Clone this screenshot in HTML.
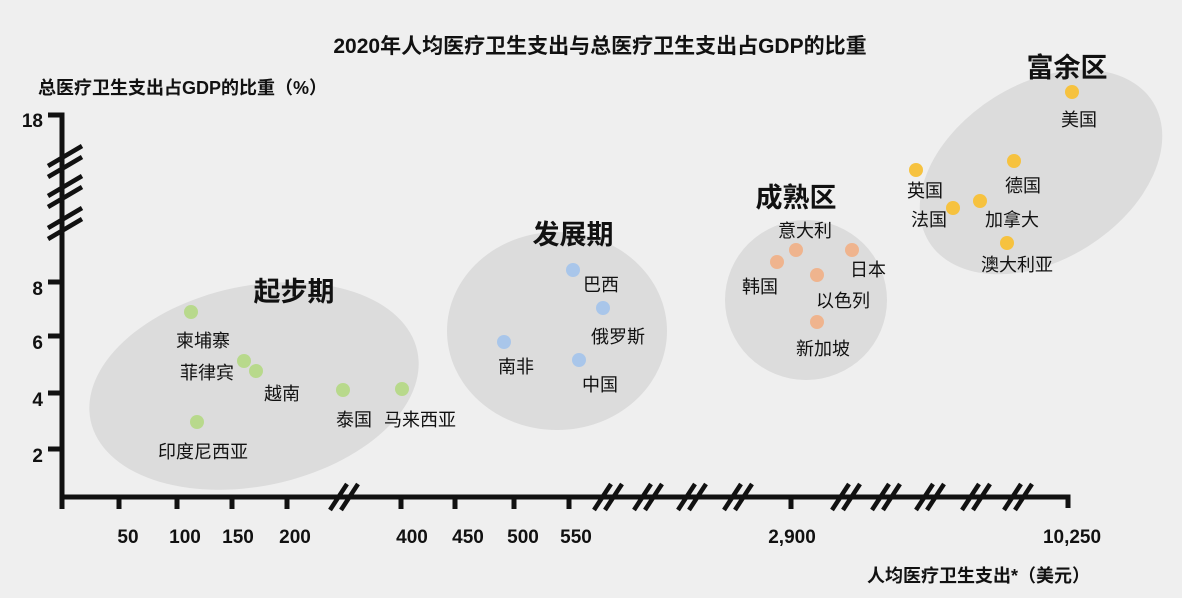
<!DOCTYPE html>
<html><head><meta charset="utf-8"><style>
html,body{margin:0;padding:0;background:#efefef;}
svg{display:block;}
text{font-family:"Liberation Sans","Noto Sans CJK SC",sans-serif;fill:#111;}
.b{font-weight:bold;}
.l{font-size:18px;text-anchor:middle;}
.z{font-size:27px;font-weight:bold;text-anchor:middle;}
.n{font-size:19px;font-weight:bold;}
</style></head><body>
<svg width="1182" height="598" viewBox="0 0 1182 598">
<rect width="1182" height="598" fill="#efefef"/>
<text x="600" y="53" class="b" font-size="21" text-anchor="middle">2020年人均医疗卫生支出与总医疗卫生支出占GDP的比重</text>
<text x="38" y="94" class="b" font-size="18">总医疗卫生支出占GDP的比重（%）</text>
<text x="1090" y="582" class="b" font-size="18" text-anchor="end">人均医疗卫生支出*（美元）</text>
<g fill="#dcdcdc">
<ellipse cx="254" cy="386" rx="167" ry="100" transform="rotate(-12 254 386)"/>
<ellipse cx="557" cy="331" rx="110" ry="99"/>
<ellipse cx="806" cy="300" rx="81" ry="80"/>
<ellipse cx="1041" cy="172" rx="132" ry="88" transform="rotate(-32 1041 172)"/>
</g>
<g stroke="#111" stroke-width="5" fill="none">
<polyline points="48,115 62,115 62,497 1068,497 1068,508"/>
<line x1="48" y1="282" x2="62" y2="282"/><line x1="48" y1="336" x2="62" y2="336"/>
<line x1="48" y1="393" x2="62" y2="393"/><line x1="48" y1="449" x2="62" y2="449"/>
<line x1="62" y1="497" x2="62" y2="509"/>
<line x1="119" y1="497" x2="119" y2="509"/><line x1="177" y1="497" x2="177" y2="509"/>
<line x1="232" y1="497" x2="232" y2="509"/><line x1="287" y1="497" x2="287" y2="509"/>
<line x1="401" y1="497" x2="401" y2="509"/><line x1="455" y1="497" x2="455" y2="509"/>
<line x1="514" y1="497" x2="514" y2="509"/><line x1="569" y1="497" x2="569" y2="509"/>
<line x1="791" y1="497" x2="791" y2="509"/>
</g>
<g stroke="#111" stroke-width="4.5">
<line x1="48" y1="166" x2="82" y2="146"/><line x1="48" y1="177" x2="82" y2="157"/>
<line x1="48" y1="196" x2="82" y2="176"/><line x1="48" y1="207" x2="82" y2="187"/>
<line x1="48" y1="228" x2="82" y2="208"/><line x1="48" y1="239" x2="82" y2="219"/>
</g>
<g stroke="#111" stroke-width="4.5">
<line x1="330" y1="510" x2="347" y2="484"/><line x1="341" y1="510" x2="358" y2="484"/>
<line x1="594" y1="510" x2="611" y2="484"/><line x1="605" y1="510" x2="622" y2="484"/>
<line x1="634" y1="510" x2="651" y2="484"/><line x1="645" y1="510" x2="662" y2="484"/>
<line x1="678" y1="510" x2="695" y2="484"/><line x1="689" y1="510" x2="706" y2="484"/>
<line x1="724" y1="510" x2="741" y2="484"/><line x1="735" y1="510" x2="752" y2="484"/>
<line x1="832" y1="510" x2="849" y2="484"/><line x1="843" y1="510" x2="860" y2="484"/>
<line x1="872" y1="510" x2="889" y2="484"/><line x1="883" y1="510" x2="900" y2="484"/>
<line x1="916" y1="510" x2="933" y2="484"/><line x1="927" y1="510" x2="944" y2="484"/>
<line x1="962" y1="510" x2="979" y2="484"/><line x1="973" y1="510" x2="990" y2="484"/>
<line x1="1004" y1="510" x2="1021" y2="484"/><line x1="1015" y1="510" x2="1032" y2="484"/>
</g>
<g text-anchor="end">
<text x="43" y="127" class="n">18</text><text x="43" y="295" class="n">8</text>
<text x="43" y="349" class="n">6</text><text x="43" y="406" class="n">4</text>
<text x="43" y="462" class="n">2</text>
</g>
<g text-anchor="middle">
<text x="128" y="543" class="n">50</text><text x="185" y="543" class="n">100</text>
<text x="238" y="543" class="n">150</text><text x="295" y="543" class="n">200</text>
<text x="412" y="543" class="n">400</text><text x="468" y="543" class="n">450</text>
<text x="523" y="543" class="n">500</text><text x="576" y="543" class="n">550</text>
<text x="792" y="543" class="n">2,900</text><text x="1072" y="543" class="n">10,250</text>
</g>
<text x="294" y="301" class="z">起步期</text>
<text x="573" y="244" class="z">发展期</text>
<text x="796" y="207" class="z">成熟区</text>
<text x="1067" y="77" class="z">富余区</text>
<g fill="#b8d98c">
<circle cx="191" cy="312" r="7"/><circle cx="244" cy="361" r="7"/><circle cx="256" cy="371" r="7"/>
<circle cx="343" cy="390" r="7"/><circle cx="402" cy="389" r="7"/><circle cx="197" cy="422" r="7"/>
</g>
<g fill="#a9c6ea">
<circle cx="573" cy="270" r="7"/><circle cx="603" cy="308" r="7"/><circle cx="504" cy="342" r="7"/><circle cx="579" cy="360" r="7"/>
</g>
<g fill="#efb48e">
<circle cx="796" cy="250" r="7"/><circle cx="852" cy="250" r="7"/><circle cx="777" cy="262" r="7"/>
<circle cx="817" cy="275" r="7"/><circle cx="817" cy="322" r="7"/>
</g>
<g fill="#f6c23f">
<circle cx="1072" cy="92" r="7"/><circle cx="1014" cy="161" r="7"/><circle cx="916" cy="170" r="7"/>
<circle cx="980" cy="201" r="7"/><circle cx="953" cy="208" r="7"/><circle cx="1007" cy="243" r="7"/>
</g>
<g>
<text x="203" y="347" class="l">柬埔寨</text>
<text x="207" y="379" class="l">菲律宾</text>
<text x="282" y="400" class="l">越南</text>
<text x="354" y="426" class="l">泰国</text>
<text x="420" y="426" class="l">马来西亚</text>
<text x="203" y="458" class="l">印度尼西亚</text>
<text x="601" y="291" class="l">巴西</text>
<text x="618" y="343" class="l">俄罗斯</text>
<text x="516" y="373" class="l">南非</text>
<text x="600" y="391" class="l">中国</text>
<text x="805" y="237" class="l">意大利</text>
<text x="868" y="276" class="l">日本</text>
<text x="760" y="293" class="l">韩国</text>
<text x="843" y="307" class="l">以色列</text>
<text x="823" y="355" class="l">新加坡</text>
<text x="1079" y="126" class="l">美国</text>
<text x="1023" y="192" class="l">德国</text>
<text x="925" y="197" class="l">英国</text>
<text x="929" y="226" class="l">法国</text>
<text x="1012" y="226" class="l">加拿大</text>
<text x="1017" y="271" class="l">澳大利亚</text>
</g>
</svg>
</body></html>
